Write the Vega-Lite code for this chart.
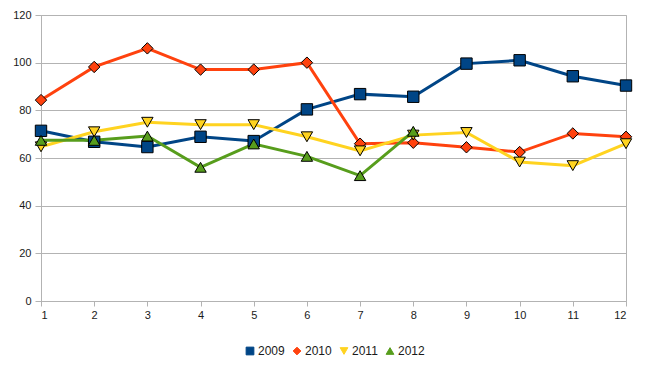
{
  "$schema": "https://vega.github.io/schema/vega-lite/v6.json",
  "autosize": "none",
  "width": 585,
  "height": 286,
  "padding": {"left": 41, "top": 15, "right": 34, "bottom": 72},
  "background": "white",
  "config": {
    "view": {"stroke": "#b3b3b3"},
    "font": "Liberation Sans",
    "axis": {"labelFont": "Liberation Sans", "labelFontSize": 11, "labelColor": "#1a1a1a", "gridColor": "#b3b3b3", "domainColor": "#b3b3b3", "tickColor": "#b3b3b3", "title": null}
  },
  "data": {"values": [
    {"year":"2009","month":1,"value":71.4},{"year":"2009","month":2,"value":66.8},{"year":"2009","month":3,"value":64.6},{"year":"2009","month":4,"value":68.9},{"year":"2009","month":5,"value":67.1},{"year":"2009","month":6,"value":80.4},{"year":"2009","month":7,"value":86.8},{"year":"2009","month":8,"value":85.7},{"year":"2009","month":9,"value":99.6},{"year":"2009","month":10,"value":101},{"year":"2009","month":11,"value":94.3},{"year":"2009","month":12,"value":90.4},
    {"year":"2010","month":1,"value":84.3},{"year":"2010","month":2,"value":98.2},{"year":"2010","month":3,"value":106},{"year":"2010","month":4,"value":97.1},{"year":"2010","month":5,"value":97.1},{"year":"2010","month":6,"value":100},{"year":"2010","month":7,"value":66},{"year":"2010","month":8,"value":66.4},{"year":"2010","month":9,"value":64.5},{"year":"2010","month":10,"value":62.5},{"year":"2010","month":11,"value":70.3},{"year":"2010","month":12,"value":68.9},
    {"year":"2011","month":1,"value":64.7},{"year":"2011","month":2,"value":71},{"year":"2011","month":3,"value":75},{"year":"2011","month":4,"value":74},{"year":"2011","month":5,"value":74},{"year":"2011","month":6,"value":68.9},{"year":"2011","month":7,"value":63},{"year":"2011","month":8,"value":69.6},{"year":"2011","month":9,"value":70.7},{"year":"2011","month":10,"value":58.3},{"year":"2011","month":11,"value":56.8},{"year":"2011","month":12,"value":66},
    {"year":"2012","month":1,"value":67.4},{"year":"2012","month":2,"value":67.4},{"year":"2012","month":3,"value":69.2},{"year":"2012","month":4,"value":56.1},{"year":"2012","month":5,"value":65.9},{"year":"2012","month":6,"value":60.7},{"year":"2012","month":7,"value":52.6},{"year":"2012","month":8,"value":71.2}
  ]},
  "encoding": {
    "x": {"field": "month", "type": "quantitative", "scale": {"domain": [1, 12], "nice": false, "zero": false},
      "axis": {"values": [1,2,3,4,5,6,7,8,9,10,11,12], "grid": false, "tickSize": 5, "labelPadding": 3, "format": "d"}},
    "y": {"field": "value", "type": "quantitative", "scale": {"domain": [0, 120], "nice": false},
      "axis": {"values": [0,20,40,60,80,100,120], "tickSize": 6, "labelPadding": 4}},
    "color": {"field": "year", "type": "nominal",
      "scale": {"domain": ["2009","2010","2011","2012"], "range": ["#004586","#ff420e","#ffd320","#579d1c"]},
      "legend": {"title": null, "orient": "none", "legendX": 203, "legendY": 330, "direction": "horizontal", "labelFontSize": 12, "labelColor": "#1a1a1a", "symbolSize": 60, "columnPadding": 6, "labelOffset": 2,
        "encode": {"symbols": {"update": {"stroke": {"value": "black"}, "strokeWidth": {"value": 1}}}}}}
  },
  "layer": [
    {"mark": {"type": "line", "strokeWidth": 3}, "encoding": {"detail": {"field": "year"}}},
    {"mark": {"type": "point", "filled": true, "opacity": 1, "size": 130, "stroke": "black", "strokeWidth": 1},
      "encoding": {"shape": {"field": "year", "type": "nominal", "scale": {"domain": ["2009","2010","2011","2012"], "range": ["square","diamond","triangle-down","triangle-up"]}}}}
  ]
}
